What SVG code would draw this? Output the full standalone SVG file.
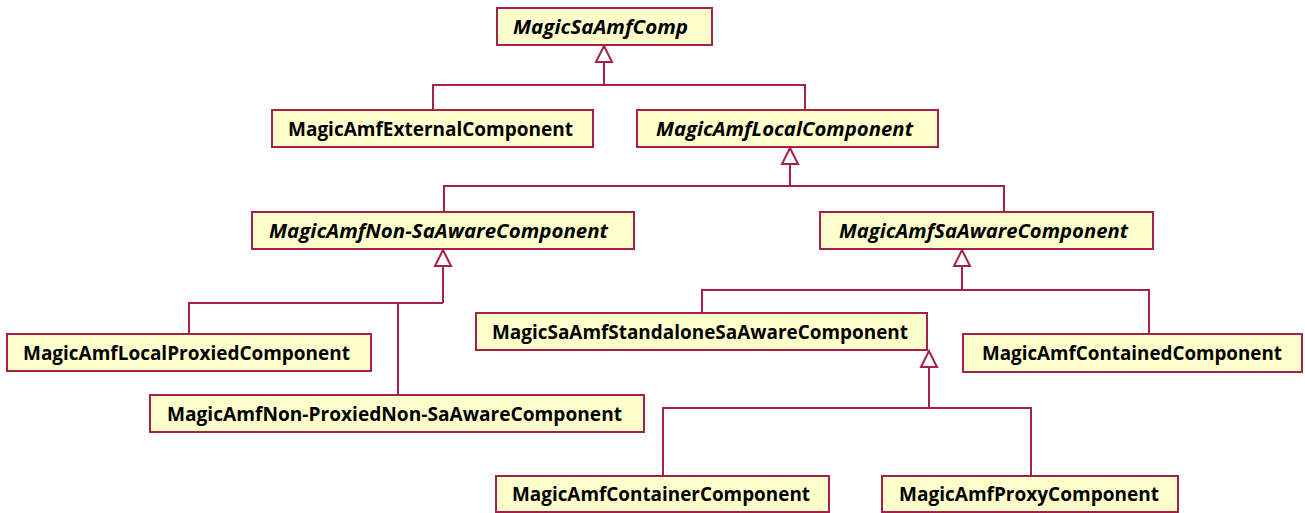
<svg xmlns="http://www.w3.org/2000/svg" width="1305" height="513" viewBox="0 0 1305 513">
<style>
.box{fill:#ffffcc;stroke:#a3214c;stroke-width:2}
.t{font-family:"Open Sans","Liberation Sans",sans-serif;font-size:19px;font-weight:bold;fill:#000;text-anchor:start}
.i{font-style:italic}
.c{fill:none;stroke:#a3214c;stroke-width:2}
.tri{fill:#fff;stroke:#a3214c;stroke-width:2;stroke-linejoin:miter}
</style>
<rect width="1305" height="513" fill="#fff"/>
<g id="connectors">
<path class="c" d="M604 62V85M433 110V85H805V110"/>
<path class="c" d="M790 164V186M444 212V186H1004V212"/>
<path class="c" d="M443 266V303M189 334V303H443M398 303V395"/>
<path class="c" d="M962 266V290M702 313V290H1149V334"/>
<path class="c" d="M929 367V408M663 476V408H1031V476"/>
<polygon class="tri" points="604,46 596,62 612,62"/>
<polygon class="tri" points="790,148 782,164 798,164"/>
<polygon class="tri" points="443,250 435,266 451,266"/>
<polygon class="tri" points="962,250 954,266 970,266"/>
<polygon class="tri" points="929,351 921,367 937,367"/>
</g>
<g id="MagicSaAmfComp"><rect class="box" x="497" y="8" width="215" height="37"/><text class="t i" x="513" y="33.5" textLength="175" lengthAdjust="spacingAndGlyphs">MagicSaAmfComp</text></g>
<g id="MagicAmfExternalComponent"><rect class="box" x="272" y="110" width="321" height="37"/><text class="t" x="288" y="135.5" textLength="285" lengthAdjust="spacingAndGlyphs">MagicAmfExternalComponent</text></g>
<g id="MagicAmfLocalComponent"><rect class="box" x="637" y="110" width="301" height="37"/><text class="t i" x="656" y="135.5" textLength="257" lengthAdjust="spacingAndGlyphs">MagicAmfLocalComponent</text></g>
<g id="MagicAmfNon-SaAwareComponent"><rect class="box" x="252" y="212" width="382" height="37"/><text class="t i" x="269" y="237.5" textLength="339" lengthAdjust="spacingAndGlyphs">MagicAmfNon-SaAwareComponent</text></g>
<g id="MagicAmfSaAwareComponent"><rect class="box" x="820" y="212" width="333" height="37"/><text class="t i" x="839" y="237.5" textLength="289" lengthAdjust="spacingAndGlyphs">MagicAmfSaAwareComponent</text></g>
<g id="MagicAmfLocalProxiedComponent"><rect class="box" x="7" y="334" width="364" height="37"/><text class="t" x="23" y="359.5" textLength="327" lengthAdjust="spacingAndGlyphs">MagicAmfLocalProxiedComponent</text></g>
<g id="MagicAmfNon-ProxiedNon-SaAwareComponent"><rect class="box" x="150" y="395" width="494" height="37"/><text class="t" x="167" y="420.5" textLength="455" lengthAdjust="spacingAndGlyphs">MagicAmfNon-ProxiedNon-SaAwareComponent</text></g>
<g id="MagicSaAmfStandaloneSaAwareComponent"><rect class="box" x="476" y="313" width="451" height="37"/><text class="t" x="492" y="338.5" textLength="416" lengthAdjust="spacingAndGlyphs">MagicSaAmfStandaloneSaAwareComponent</text></g>
<g id="MagicAmfContainedComponent"><rect class="box" x="963" y="334" width="339" height="38"/><text class="t" x="982" y="360" textLength="300" lengthAdjust="spacingAndGlyphs">MagicAmfContainedComponent</text></g>
<g id="MagicAmfContainerComponent"><rect class="box" x="496" y="476" width="333" height="36"/><text class="t" x="512" y="501" textLength="298" lengthAdjust="spacingAndGlyphs">MagicAmfContainerComponent</text></g>
<g id="MagicAmfProxyComponent"><rect class="box" x="882" y="476" width="296" height="36"/><text class="t" x="899" y="501" textLength="260" lengthAdjust="spacingAndGlyphs">MagicAmfProxyComponent</text></g>
</svg>
